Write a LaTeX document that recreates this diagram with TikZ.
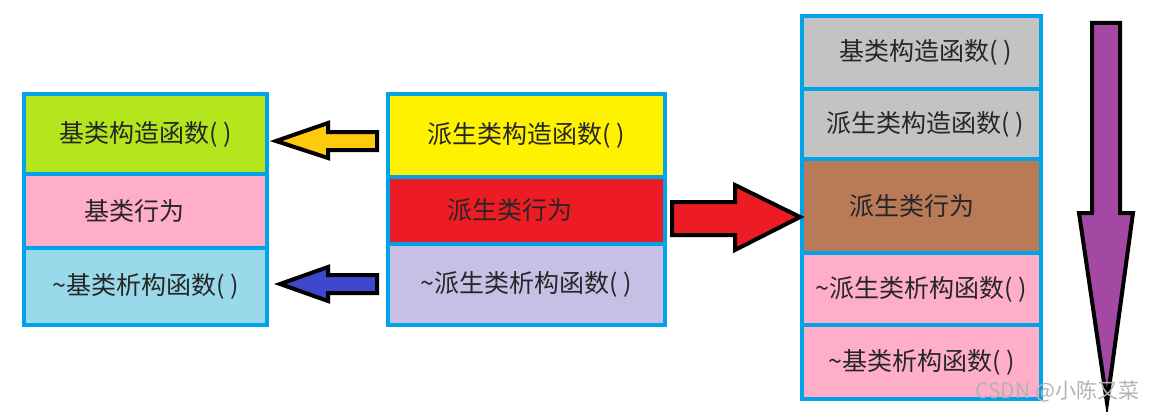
\documentclass[tikz,border=0pt]{standalone}
\usepackage{fontspec}
\newfontfamily\cjk{Noto Sans CJK SC}
\usetikzlibrary{positioning}
\definecolor{pbblue}{HTML}{00A2E8}
\definecolor{pbgreen}{HTML}{B5E61D}
\definecolor{pbpink}{HTML}{FFAEC9}
\definecolor{pbsky}{HTML}{99D9EA}
\definecolor{pbyellow}{HTML}{FFF200}
\definecolor{pbred}{HTML}{ED1C24}
\definecolor{pblav}{HTML}{C8BFE7}
\definecolor{pbgray}{HTML}{C3C3C3}
\definecolor{pbbrown}{HTML}{B97A57}
\definecolor{pbpurple}{HTML}{A349A4}
\definecolor{pborange}{HTML}{FFC90E}
\definecolor{pbindigo}{HTML}{3F48CC}
\newcommand\tld{\char"7E\relax}
\tikzset{
  cell/.style={rectangle, draw=pbblue, line width=3.5pt, inner sep=0pt, outer sep=0pt,
               font=\cjk\fontsize{25}{30}\selectfont, text=black!85},
  blockar/.style={draw=black, line width=4pt, line join=miter},
}
\begin{document}
\begin{tikzpicture}[x=1pt,y=-1pt]
\useasboundingbox (0,0) rectangle (1149,412);

% ---------- base class ----------
\node[cell,fill=pbgreen,minimum width=243pt,minimum height=80pt,anchor=north west] (bctor) at (24,94)
   {基类构造函数( )};
\node[cell,fill=pbpink,minimum width=243pt,minimum height=74pt,below=0pt of bctor] (bact)
   {基类行为\kern22pt};
\node[cell,fill=pbsky,minimum width=243pt,minimum height=77pt,below=0pt of bact] (bdtor)
   {\tld 基类析构函数( )};

% ---------- derived class ----------
\node[cell,fill=pbyellow,minimum width=277pt,minimum height=83pt,anchor=north west] (dctor) at (388,94)
   {派生类构造函数( )};
\node[cell,fill=pbred,minimum width=277pt,minimum height=67pt,below=0pt of dctor] (dact)
   {派生类行为\kern34pt};
\node[cell,fill=pblav,minimum width=277pt,minimum height=81pt,below=0pt of dact] (ddtor)
   {\tld 派生类析构函数( )};

% ---------- call order ----------
\node[cell,fill=pbgray,minimum width=239pt,minimum height=73pt,anchor=north west] (o1) at (802,16)
   {\kern8pt 基类构造函数( )};
\node[cell,fill=pbgray,minimum width=239pt,minimum height=70pt,below=0pt of o1] (o2)
   {\kern8pt 派生类构造函数( )};
\node[cell,fill=pbbrown,minimum width=239pt,minimum height=94pt,below=0pt of o2] (o3)
   {派生类行为\kern20pt};
\node[cell,fill=pbpink,minimum width=239pt,minimum height=72pt,below=0pt of o3] (o4)
   {\tld 派生类析构函数( )};
\node[cell,fill=pbpink,minimum width=239pt,minimum height=74pt,below=0pt of o4] (o5)
   {\tld 基类析构函数( )};

% ---------- block arrows ----------
\draw[blockar,fill=pborange]
   (377,132) -- (328,132) -- (328,123) -- (276,141) -- (328,158) -- (328,150) -- (377,150) -- cycle;
\draw[blockar,fill=pbindigo]
   (377,275) -- (328,275) -- (328,267) -- (280,284) -- (328,301) -- (328,293) -- (377,293) -- cycle;
\draw[blockar,fill=pbred]
   (672,202) -- (735,202) -- (735,185) -- (800,217) -- (735,250) -- (735,235) -- (672,235) -- cycle;
\draw[blockar,fill=pbpurple]
   (1092,23) -- (1120,23) -- (1120,213) -- (1133,213) -- (1107,403) -- (1079,213) -- (1092,213) -- cycle;

% watermark
\node[font=\cjk\fontsize{21}{24}\selectfont,text=gray!60,anchor=west] (wm) at (972,391) {CSDN @小陈又菜};
\end{tikzpicture}
\end{document}
